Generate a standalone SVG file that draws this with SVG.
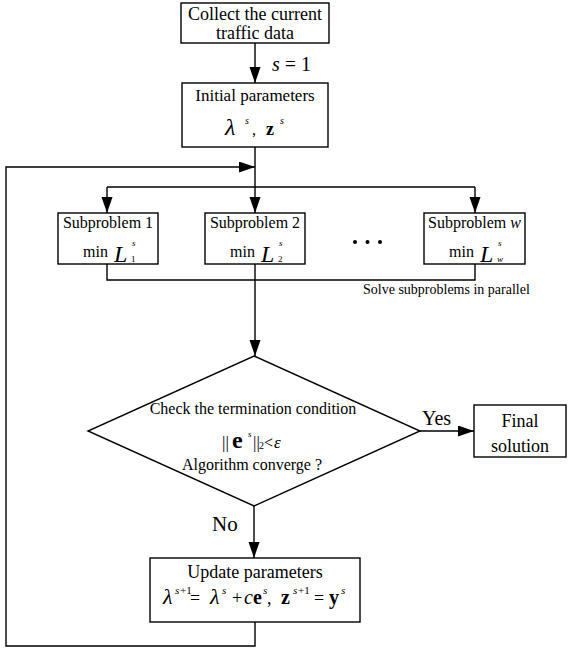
<svg xmlns="http://www.w3.org/2000/svg" width="571" height="650" viewBox="0 0 571 650" font-family="'Liberation Serif', 'DejaVu Serif', serif">
<style>
text{font-family:'Liberation Serif','DejaVu Serif',serif;fill:#000}
.box{fill:#fff;stroke:#000;stroke-width:1.4}
.ln{fill:none;stroke:#000;stroke-width:1.4}
.ar{fill:none;stroke:#000;stroke-width:1.4;marker-end:url(#ah)}
.c{text-anchor:middle}
.i{font-style:italic}
.b{font-weight:bold}
</style>
<defs>
<marker id="ah" markerUnits="userSpaceOnUse" markerWidth="17" markerHeight="12" refX="16" refY="5.5" orient="auto">
<path d="M0,0 L16,5.5 L0,11 z" fill="#000"/>
</marker>
</defs>
<rect width="571" height="650" fill="#fff"/>
<g id="connectors">
<path class="ar" d="M255,43 V83"/>
<path class="ln" d="M255,147 V187"/>
<path class="ln" d="M107,187 H475"/>
<path class="ar" d="M107,187 V213"/>
<path class="ar" d="M255,187 V213"/>
<path class="ar" d="M475,187 V213"/>
<path class="ln" d="M107,264 V280 H475 V264"/>
<path class="ar" d="M255,264 V356"/>
<path class="ar" d="M420,431 H474"/>
<path class="ar" d="M254,506 V558"/>
<path class="ar" d="M255,622 V646 H6 V167 H255"/>
<text x="272" y="71" font-size="20"><tspan class="i">s</tspan> = 1</text>
<text x="422" y="425" font-size="20">Yes</text>
<text x="212" y="531" font-size="21">No</text>
<text x="363" y="294" font-size="14">Solve subproblems in parallel</text>
</g>
<g id="collect">
<rect class="box" x="181" y="3" width="148" height="40"/>
<text class="c" x="255" y="20" font-size="18">Collect the current</text>
<text class="c" x="255" y="39" font-size="18">traffic data</text>
</g>
<g id="initial">
<rect class="box" x="182" y="83" width="146" height="64"/>
<text class="c" x="255" y="101" font-size="17">Initial parameters</text>
<text y="135"><tspan class="i" x="225" font-size="24">λ</tspan><tspan class="i" x="245" y="124" font-size="10">s</tspan><tspan x="252" y="135" font-size="16">,</tspan><tspan class="b" x="266" font-size="18">z</tspan><tspan class="i" x="280" y="124" font-size="10">s</tspan></text>
</g>
<g id="sub1">
<rect class="box" x="58" y="213" width="100" height="51"/>
<text class="c" x="108" y="228" font-size="16">Subproblem 1</text>
<text x="83" y="257" font-size="16">min</text>
<text class="i" x="114" y="262" font-size="24">L</text>
<text class="i" x="132" y="246" font-size="9">s</text>
<text x="131" y="262" font-size="9">1</text>
</g>
<g id="sub2">
<rect class="box" x="205" y="213" width="100" height="51"/>
<text class="c" x="255" y="228" font-size="16">Subproblem 2</text>
<text x="230" y="257" font-size="16">min</text>
<text class="i" x="261" y="262" font-size="24">L</text>
<text class="i" x="279" y="246" font-size="9">s</text>
<text x="278" y="262" font-size="9">2</text>
</g>
<g id="dots">
<circle cx="355" cy="242" r="2"/>
<circle cx="367.5" cy="242" r="2"/>
<circle cx="380" cy="242" r="2"/>
</g>
<g id="subw">
<rect class="box" x="424" y="213" width="101" height="51"/>
<text class="c" x="474.5" y="228" font-size="16">Subproblem <tspan class="i">w</tspan></text>
<text x="449" y="257" font-size="16">min</text>
<text class="i" x="480" y="262" font-size="24">L</text>
<text class="i" x="498" y="246" font-size="9">s</text>
<text class="i" x="497" y="262" font-size="9">w</text>
</g>
<g id="check">
<polygon class="box" points="254,356 420,431 254,506 88,431"/>
<text class="c" x="253" y="414" font-size="16">Check the termination condition</text>
<text y="448"><tspan x="222" font-size="17">||</tspan><tspan class="b" x="232" font-size="24">e</tspan><tspan class="i" x="248" y="437" font-size="9">s</tspan><tspan x="253" y="448" font-size="17">||</tspan><tspan x="259" y="449" font-size="10">2</tspan><tspan x="264" y="448" font-size="16">&lt;</tspan><tspan class="i" x="274" font-size="17">ε</tspan></text>
<text class="c" x="252" y="470" font-size="16">Algorithm converge ?</text>
</g>
<g id="final">
<rect class="box" x="474" y="405" width="92" height="52"/>
<text class="c" x="520" y="427" font-size="18">Final</text>
<text class="c" x="520" y="452" font-size="18">solution</text>
</g>
<g id="update">
<rect class="box" x="150" y="558" width="210" height="64"/>
<text class="c" x="255" y="578" font-size="18">Update parameters</text>
<text y="604"><tspan class="i" x="163" font-size="22">λ</tspan><tspan class="i" x="175" y="594" font-size="11">s</tspan><tspan x="180" font-size="11">+1</tspan><tspan x="190" y="604" font-size="18">=</tspan><tspan class="i" x="210" font-size="22">λ</tspan><tspan class="i" x="222" y="594" font-size="11">s</tspan><tspan x="232" y="604" font-size="18">+</tspan><tspan class="i" x="244" font-size="20">c</tspan><tspan class="b" x="253" font-size="20">e</tspan><tspan class="i" x="263" y="594" font-size="11">s</tspan><tspan x="267" y="604" font-size="18">,</tspan><tspan class="b" x="281" font-size="20">z</tspan><tspan class="i" x="293" y="594" font-size="11">s</tspan><tspan x="298" font-size="11">+1</tspan><tspan x="314" y="604" font-size="18">=</tspan><tspan class="b" x="329" font-size="20">y</tspan><tspan class="i" x="341" y="594" font-size="11">s</tspan></text>
</g>
</svg>
